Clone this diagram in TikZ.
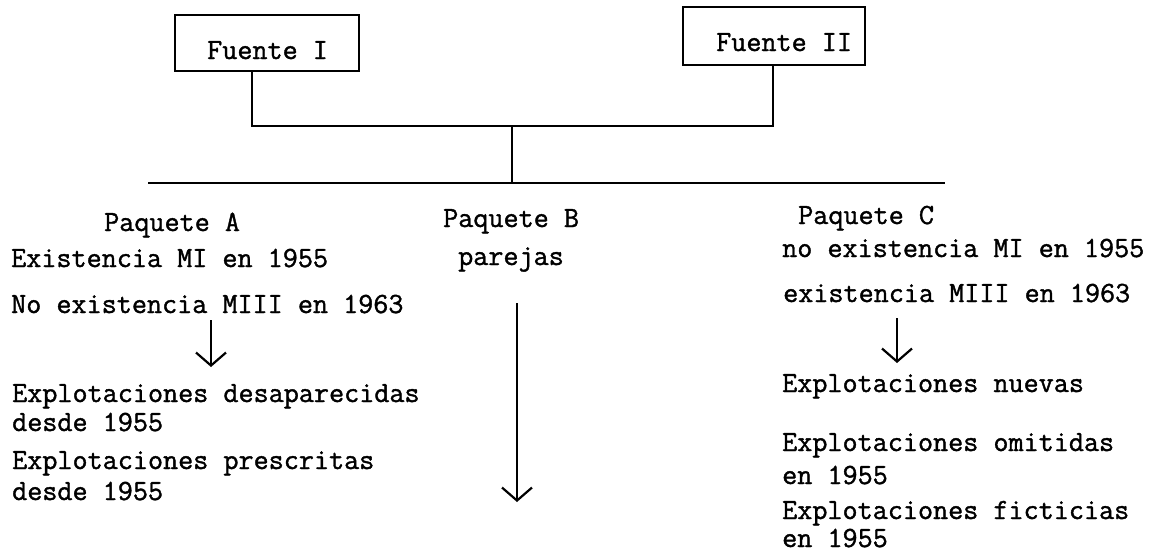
\documentclass[tikz,border=0pt]{standalone}
\usepackage{fontspec}
\newfontfamily\typew[FakeBold=1.3]{Latin Modern Mono}
\usetikzlibrary{arrows.meta}
\begin{document}
\begin{tikzpicture}[x=1pt,y=-1pt,
  line width=2.4pt,
  txt/.style={anchor=base west,inner sep=0pt,font=\fontsize{29.3}{34}\selectfont\typew},
  fbox/.style={draw,line width=2.4pt,inner sep=0pt},
  downarrow/.style={-{Straight Barb[length=13pt,width=30pt,line width=2.2pt]}}]
\useasboundingbox (0,0) rectangle (1153,554);
% boxes
\node[fbox,minimum width=184pt,minimum height=56pt] (f1) at (267,43) {};
\node[txt] (f1t) at (206,59) {Fuente I};
\node[fbox,minimum width=182pt,minimum height=58pt] (f2) at (774,36) {};
\node[txt] (f2t) at (715,51) {Fuente II};
% connectors
\coordinate (j1) at (252,126);
\coordinate (j2) at (773,126);
\coordinate (jm) at (512,126);
\coordinate (jb) at (512,183);
\coordinate (lL) at (148,183);
\coordinate (lR) at (945,183);
\draw (f1.south -| j1) -- (j1) -- (j2) -- (f2.south -| j2);
\draw (jm) -- (jb);
\draw (lL) -- (lR);
% column A
\node[txt] (pa) at (103,231) {Paquete A};
\node[txt] (a1) at (10,267) {Existencia MI en 1955};
\node[txt] (a2) at (10,313) {No existencia MIII en 1963};
\node[txt] (a3) at (11,402) {Explotaciones desaparecidas};
\node[txt] (a4) at (11,431) {desde 1955};
\node[txt] (a5) at (11,469) {Explotaciones prescritas};
\node[txt] (a6) at (11,500) {desde 1955};
\coordinate (aA1) at (211,320);
\coordinate (aA2) at (211,367);
\draw[downarrow] (aA1) -- (aA2);
% column B
\node[txt] (pb) at (442,227) {Paquete B};
\node[txt] (b1) at (457,265) {parejas};
\coordinate (aB1) at (517,303);
\coordinate (aB2) at (517,502);
\draw[downarrow] (aB1) -- (aB2);
% column C
\node[txt] (pc) at (797,224) {Paquete C};
\node[txt] (c1) at (781,257) {no existencia MI en 1955};
\node[txt] (c2) at (782,302) {existencia MIII en 1963};
\node[txt] (c3) at (781,392) {Explotaciones nuevas};
\node[txt] (c4) at (781,451) {Explotaciones omitidas};
\node[txt] (c5) at (781,484) {en 1955};
\node[txt] (c6) at (781,519) {Explotaciones ficticias};
\node[txt] (c7) at (781,547) {en 1955};
\coordinate (aC1) at (897,318);
\coordinate (aC2) at (897,363);
\draw[downarrow] (aC1) -- (aC2);
\end{tikzpicture}
\end{document}
